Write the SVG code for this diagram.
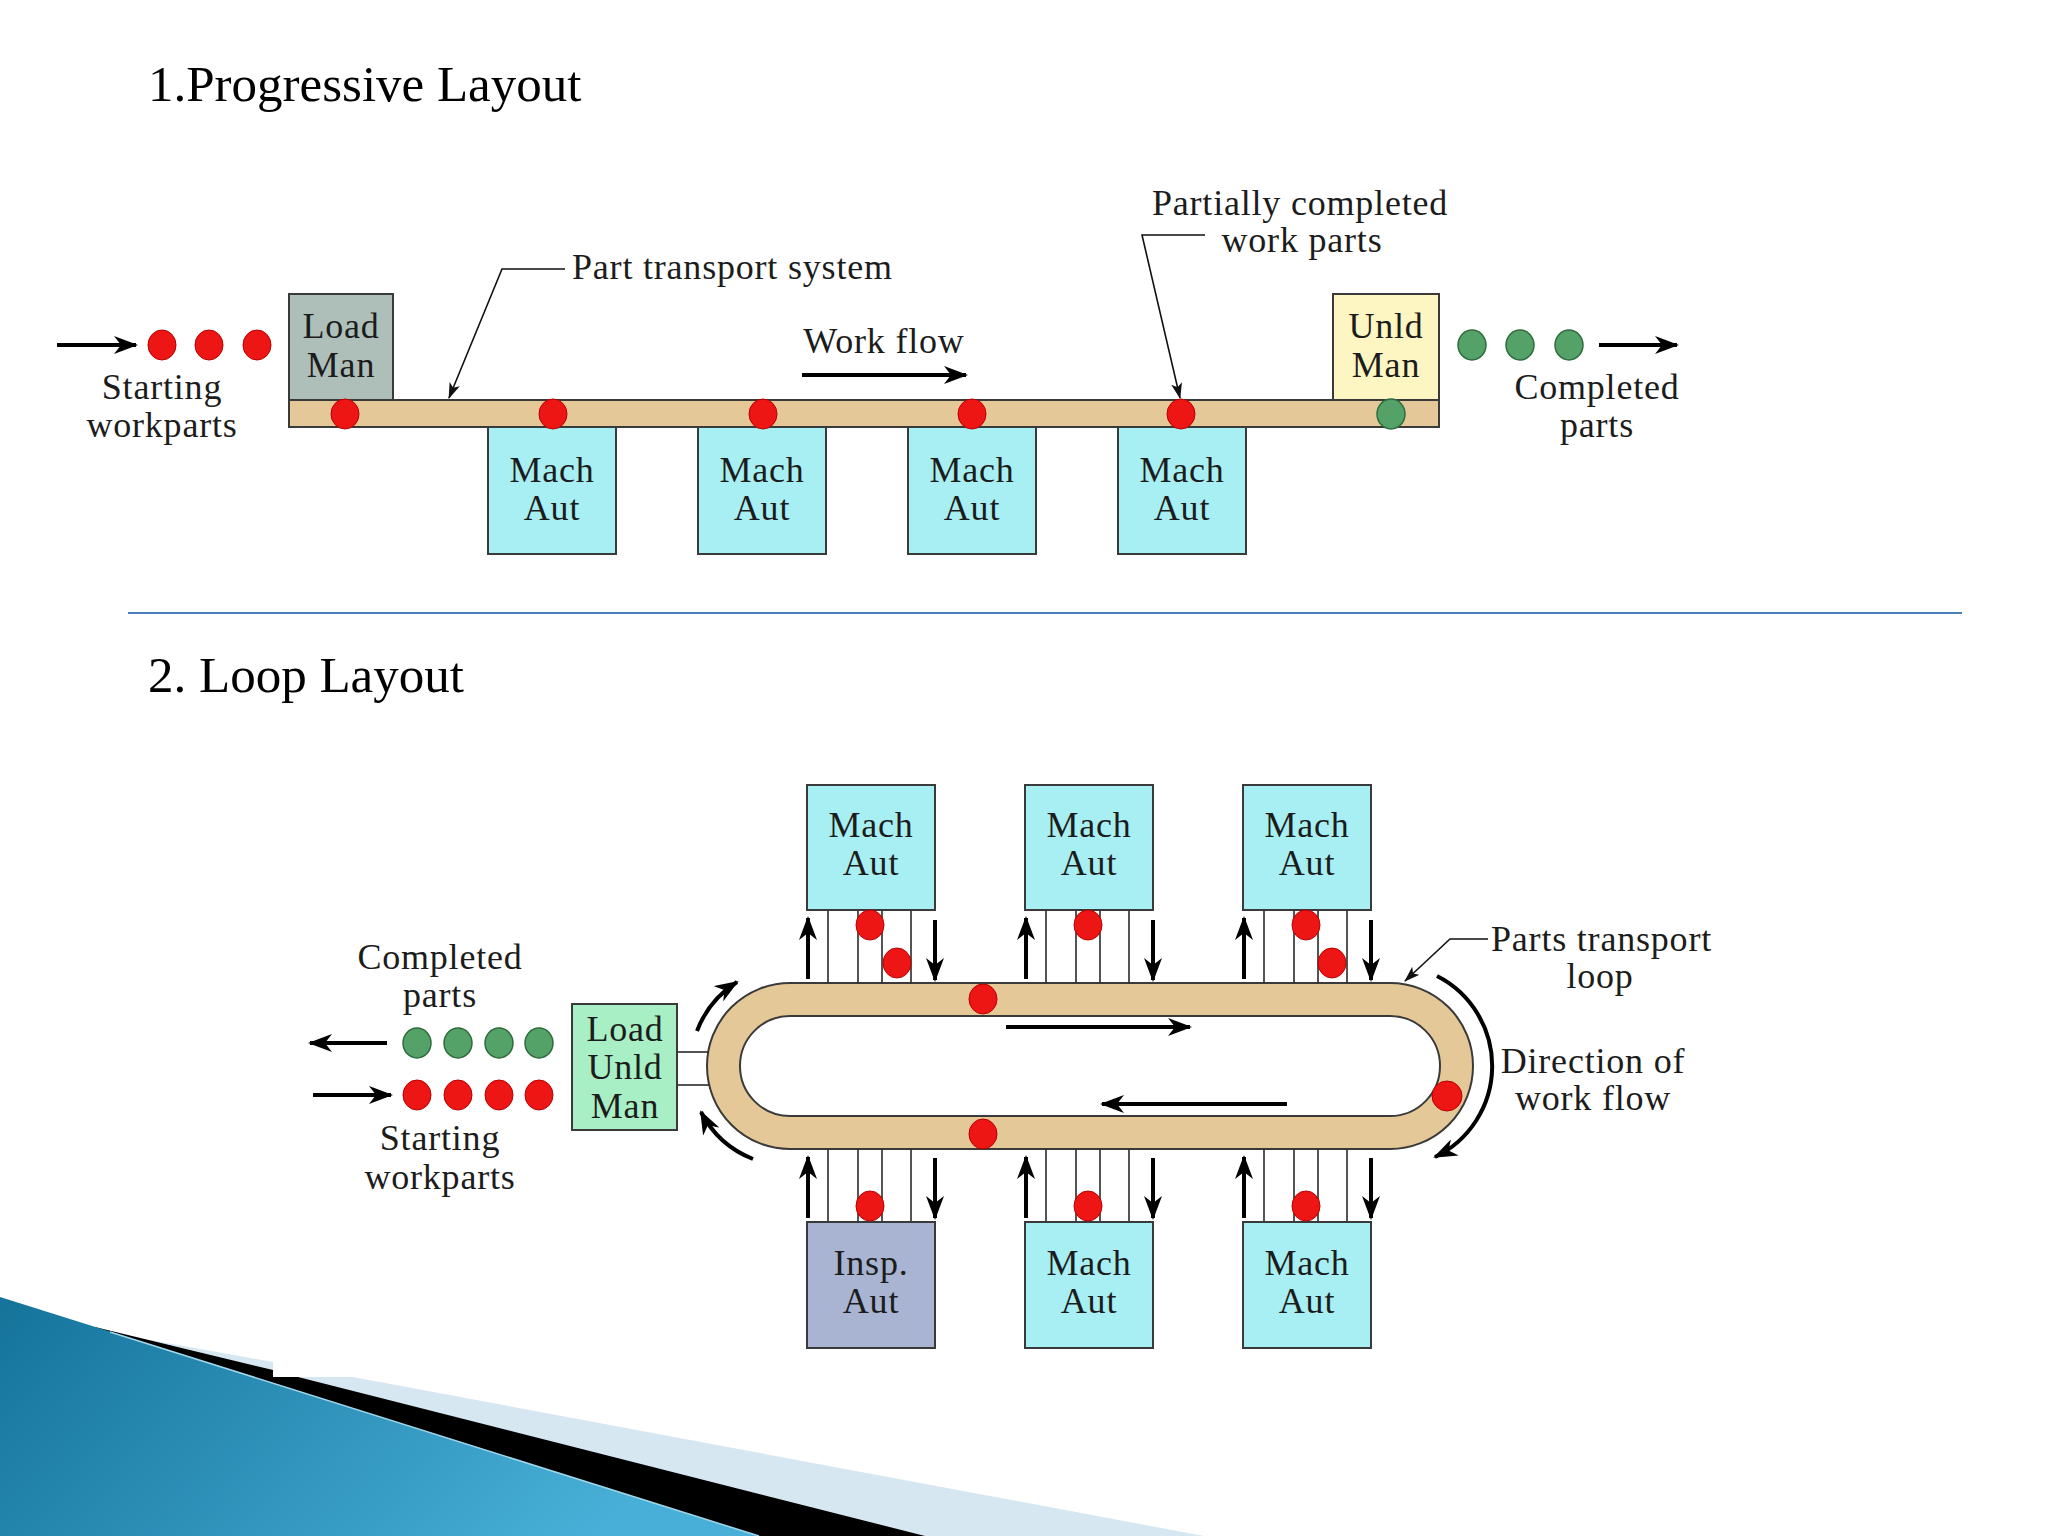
<svg xmlns="http://www.w3.org/2000/svg" width="2048" height="1536" viewBox="0 0 2048 1536">
<defs>
<style>
.t{font-family:"Liberation Serif","Times New Roman",serif;fill:#1c1c1c}
.title{font-size:51px;fill:#000}
.lbl{font-size:36px;letter-spacing:0.8px;text-anchor:middle}
.lft{text-anchor:start}
.box{stroke:#3a3a3a;stroke-width:2}
.mach{fill:#a8eff3}
.red{fill:#ee1515;stroke:#b80000;stroke-width:1}
.grn{fill:#55a268;stroke:#2f6b3d;stroke-width:1.5}
.arr{stroke:#000;stroke-width:4;fill:none}
.lead{stroke:#111;stroke-width:1.6;fill:none}
.thin{stroke:#2a2a2a;stroke-width:1.6}
.tan{fill:#e5c898;stroke:#3a3a3a;stroke-width:2}
</style>
<marker id="ah" markerUnits="userSpaceOnUse" viewBox="0 0 24 18" markerWidth="24" markerHeight="18" refX="22" refY="9" orient="auto"><path d="M0,0 L24,9 L0,18 L7,9 Z" fill="#000"/></marker>
<marker id="sh" markerUnits="userSpaceOnUse" viewBox="0 0 16 11" markerWidth="16" markerHeight="11" refX="15" refY="5.5" orient="auto"><path d="M0,0 L16,5.5 L0,11 L4,5.5 Z" fill="#111"/></marker>
<linearGradient id="blueg" x1="0" y1="0" x2="1" y2="0.3">
<stop offset="0" stop-color="#15739a"/>
<stop offset="1" stop-color="#48b0d8"/>
</linearGradient>
</defs>
<rect width="2048" height="1536" fill="#fff"/>

<text class="t title" x="148" y="101">1.Progressive Layout</text>
<text class="t title" x="148" y="692">2. Loop Layout</text>
<line x1="128" y1="613" x2="1962" y2="613" stroke="#4a7ebb" stroke-width="2"/>

<!-- Progressive layout -->
<g id="conveyor">
<rect class="tan" x="289" y="400" width="1150" height="27"/>
</g>
<g id="load-man">
<rect class="box" x="289" y="294" width="104" height="106" fill="#aebfba"/>
<text class="t lbl" x="341" y="338">Load</text>
<text class="t lbl" x="341" y="377">Man</text>
</g>
<g id="unld-man">
<rect class="box" x="1333" y="294" width="106" height="106" fill="#fdf5c2"/>
<text class="t lbl" x="1386" y="338">Unld</text>
<text class="t lbl" x="1386" y="377">Man</text>
</g>
<g id="p-mach-1">
<rect class="box mach" x="488" y="427" width="128" height="127"/>
<text class="t lbl" x="552" y="482">Mach</text><text class="t lbl" x="552" y="520">Aut</text>
</g>
<g id="p-mach-2">
<rect class="box mach" x="698" y="427" width="128" height="127"/>
<text class="t lbl" x="762" y="482">Mach</text><text class="t lbl" x="762" y="520">Aut</text>
</g>
<g id="p-mach-3">
<rect class="box mach" x="908" y="427" width="128" height="127"/>
<text class="t lbl" x="972" y="482">Mach</text><text class="t lbl" x="972" y="520">Aut</text>
</g>
<g id="p-mach-4">
<rect class="box mach" x="1118" y="427" width="128" height="127"/>
<text class="t lbl" x="1182" y="482">Mach</text><text class="t lbl" x="1182" y="520">Aut</text>
</g>
<g id="p-parts">
<ellipse class="red" cx="162" cy="345" rx="14" ry="15"/>
<ellipse class="red" cx="209" cy="345" rx="14" ry="15"/>
<ellipse class="red" cx="257" cy="345" rx="14" ry="15"/>
<ellipse class="red" cx="345" cy="414" rx="14" ry="15"/>
<ellipse class="red" cx="553" cy="414" rx="14" ry="15"/>
<ellipse class="red" cx="763" cy="414" rx="14" ry="15"/>
<ellipse class="red" cx="972" cy="414" rx="14" ry="15"/>
<ellipse class="red" cx="1181" cy="414" rx="14" ry="15"/>
<ellipse class="grn" cx="1391" cy="414" rx="14" ry="15"/>
<ellipse class="grn" cx="1472" cy="345" rx="14" ry="15"/>
<ellipse class="grn" cx="1520" cy="345" rx="14" ry="15"/>
<ellipse class="grn" cx="1569" cy="345" rx="14" ry="15"/>
</g>
<g id="p-labels">
<text class="t lbl" x="162" y="399">Starting</text>
<text class="t lbl" x="162" y="437">workparts</text>
<text class="t lbl" x="1597" y="399">Completed</text>
<text class="t lbl" x="1597" y="437">parts</text>
<text class="t lbl lft" x="572" y="279">Part transport system</text>
<text class="t lbl" x="884" y="353">Work flow</text>
<text class="t lbl" x="1300" y="215">Partially completed</text>
<text class="t lbl" x="1302" y="252">work parts</text>
</g>
<g id="p-connectors">
<line class="arr" x1="57" y1="345" x2="136" y2="345" marker-end="url(#ah)"/>
<line class="arr" x1="1599" y1="345" x2="1677" y2="345" marker-end="url(#ah)"/>
<line class="arr" x1="802" y1="375" x2="966" y2="375" marker-end="url(#ah)"/>
<polyline class="lead" points="565,269 502,269 449,398" marker-end="url(#sh)"/>
<polyline class="lead" points="1205,235 1142,235 1180,398" marker-end="url(#sh)"/>
</g>

<!-- Loop layout -->
<g id="loop">
<rect class="tan" x="707" y="983" width="766" height="166" rx="83" ry="83"/>
<rect x="740" y="1016" width="700" height="100" rx="50" ry="50" fill="#fff" stroke="#3a3a3a" stroke-width="2"/>
</g>
<g id="l-links" class="thin">
<line x1="828" y1="910" x2="828" y2="983"/><line x1="858" y1="910" x2="858" y2="983"/><line x1="882" y1="910" x2="882" y2="983"/><line x1="911" y1="910" x2="911" y2="983"/>
<line x1="1046" y1="910" x2="1046" y2="983"/><line x1="1076" y1="910" x2="1076" y2="983"/><line x1="1100" y1="910" x2="1100" y2="983"/><line x1="1129" y1="910" x2="1129" y2="983"/>
<line x1="1264" y1="910" x2="1264" y2="983"/><line x1="1294" y1="910" x2="1294" y2="983"/><line x1="1318" y1="910" x2="1318" y2="983"/><line x1="1347" y1="910" x2="1347" y2="983"/>
<line x1="828" y1="1149" x2="828" y2="1222"/><line x1="858" y1="1149" x2="858" y2="1222"/><line x1="882" y1="1149" x2="882" y2="1222"/><line x1="911" y1="1149" x2="911" y2="1222"/>
<line x1="1046" y1="1149" x2="1046" y2="1222"/><line x1="1076" y1="1149" x2="1076" y2="1222"/><line x1="1100" y1="1149" x2="1100" y2="1222"/><line x1="1129" y1="1149" x2="1129" y2="1222"/>
<line x1="1264" y1="1149" x2="1264" y2="1222"/><line x1="1294" y1="1149" x2="1294" y2="1222"/><line x1="1318" y1="1149" x2="1318" y2="1222"/><line x1="1347" y1="1149" x2="1347" y2="1222"/>
<line x1="677" y1="1052" x2="709" y2="1052"/><line x1="677" y1="1085" x2="709" y2="1085"/>
</g>
<g id="l-mach-1">
<rect class="box mach" x="807" y="785" width="128" height="125"/>
<text class="t lbl" x="871" y="837">Mach</text><text class="t lbl" x="871" y="875">Aut</text>
</g>
<g id="l-mach-2">
<rect class="box mach" x="1025" y="785" width="128" height="125"/>
<text class="t lbl" x="1089" y="837">Mach</text><text class="t lbl" x="1089" y="875">Aut</text>
</g>
<g id="l-mach-3">
<rect class="box mach" x="1243" y="785" width="128" height="125"/>
<text class="t lbl" x="1307" y="837">Mach</text><text class="t lbl" x="1307" y="875">Aut</text>
</g>
<g id="l-insp">
<rect class="box" x="807" y="1222" width="128" height="126" fill="#a9b4d2"/>
<text class="t lbl" x="871" y="1275">Insp.</text><text class="t lbl" x="871" y="1313">Aut</text>
</g>
<g id="l-mach-4">
<rect class="box mach" x="1025" y="1222" width="128" height="126"/>
<text class="t lbl" x="1089" y="1275">Mach</text><text class="t lbl" x="1089" y="1313">Aut</text>
</g>
<g id="l-mach-5">
<rect class="box mach" x="1243" y="1222" width="128" height="126"/>
<text class="t lbl" x="1307" y="1275">Mach</text><text class="t lbl" x="1307" y="1313">Aut</text>
</g>
<g id="l-load-unld">
<rect class="box" x="572" y="1004" width="105" height="126" fill="#a8efc5"/>
<text class="t lbl" x="625" y="1041">Load</text>
<text class="t lbl" x="625" y="1079">Unld</text>
<text class="t lbl" x="625" y="1118">Man</text>
</g>
<g id="l-parts">
<ellipse class="red" cx="870" cy="925" rx="14" ry="15"/>
<ellipse class="red" cx="897" cy="963" rx="14" ry="15"/>
<ellipse class="red" cx="1088" cy="925" rx="14" ry="15"/>
<ellipse class="red" cx="1306" cy="925" rx="14" ry="15"/>
<ellipse class="red" cx="1332" cy="963" rx="14" ry="15"/>
<ellipse class="red" cx="870" cy="1206" rx="14" ry="15"/>
<ellipse class="red" cx="1088" cy="1206" rx="14" ry="15"/>
<ellipse class="red" cx="1306" cy="1206" rx="14" ry="15"/>
<ellipse class="red" cx="983" cy="999" rx="14" ry="15"/>
<ellipse class="red" cx="983" cy="1134" rx="14" ry="15"/>
<ellipse class="red" cx="1447" cy="1096" rx="15" ry="15"/>
<ellipse class="grn" cx="417" cy="1043" rx="14" ry="15"/>
<ellipse class="grn" cx="458" cy="1043" rx="14" ry="15"/>
<ellipse class="grn" cx="499" cy="1043" rx="14" ry="15"/>
<ellipse class="grn" cx="539" cy="1043" rx="14" ry="15"/>
<ellipse class="red" cx="417" cy="1095" rx="14" ry="15"/>
<ellipse class="red" cx="458" cy="1095" rx="14" ry="15"/>
<ellipse class="red" cx="499" cy="1095" rx="14" ry="15"/>
<ellipse class="red" cx="539" cy="1095" rx="14" ry="15"/>
</g>
<g id="l-labels">
<text class="t lbl" x="440" y="969">Completed</text>
<text class="t lbl" x="440" y="1007">parts</text>
<text class="t lbl" x="440" y="1150">Starting</text>
<text class="t lbl" x="440" y="1189">workparts</text>
<text class="t lbl lft" x="1491" y="951">Parts transport</text>
<text class="t lbl" x="1600" y="988">loop</text>
<text class="t lbl" x="1593" y="1073">Direction of</text>
<text class="t lbl" x="1593" y="1110">work flow</text>
</g>
<g id="l-connectors">
<line class="arr" x1="387" y1="1043" x2="310" y2="1043" marker-end="url(#ah)"/>
<line class="arr" x1="313" y1="1095" x2="391" y2="1095" marker-end="url(#ah)"/>
<line class="arr" x1="808" y1="979" x2="808" y2="918" marker-end="url(#ah)"/>
<line class="arr" x1="935" y1="920" x2="935" y2="980" marker-end="url(#ah)"/>
<line class="arr" x1="1026" y1="979" x2="1026" y2="918" marker-end="url(#ah)"/>
<line class="arr" x1="1153" y1="920" x2="1153" y2="980" marker-end="url(#ah)"/>
<line class="arr" x1="1244" y1="979" x2="1244" y2="918" marker-end="url(#ah)"/>
<line class="arr" x1="1371" y1="920" x2="1371" y2="980" marker-end="url(#ah)"/>
<line class="arr" x1="808" y1="1218" x2="808" y2="1157" marker-end="url(#ah)"/>
<line class="arr" x1="935" y1="1158" x2="935" y2="1218" marker-end="url(#ah)"/>
<line class="arr" x1="1026" y1="1218" x2="1026" y2="1157" marker-end="url(#ah)"/>
<line class="arr" x1="1153" y1="1158" x2="1153" y2="1218" marker-end="url(#ah)"/>
<line class="arr" x1="1244" y1="1218" x2="1244" y2="1157" marker-end="url(#ah)"/>
<line class="arr" x1="1371" y1="1158" x2="1371" y2="1218" marker-end="url(#ah)"/>
<line class="arr" x1="1006" y1="1027" x2="1190" y2="1027" marker-end="url(#ah)"/>
<line class="arr" x1="1287" y1="1104" x2="1102" y2="1104" marker-end="url(#ah)"/>
<path class="arr" d="M697,1031 A100,100 0 0 1 737,982" marker-end="url(#ah)"/>
<path class="arr" d="M753,1159 A100,100 0 0 1 701,1112" marker-end="url(#ah)"/>
<path class="arr" d="M1437,976 A101,101 0 0 1 1435,1157" marker-end="url(#ah)"/>
<polyline class="lead" points="1488,939 1450,939 1405,981" marker-end="url(#sh)"/>
</g>

<!-- slide decoration -->
<g id="decoration">
<polygon points="150,1340 273,1362 273,1385 150,1352" fill="#d6e7f1"/>
<polygon points="298,1377 353,1377 1204,1536 880,1536" fill="#d6e7f1"/>
<polygon points="95,1327 273,1370 273,1377 298,1377 925,1536 600,1536 60,1330" fill="#000"/>
<polygon points="0,1297 759,1536 0,1536" fill="url(#blueg)"/>
<line x1="110" y1="1332" x2="759" y2="1536" stroke="#9fd6ea" stroke-width="1.5"/>
</g>
</svg>
